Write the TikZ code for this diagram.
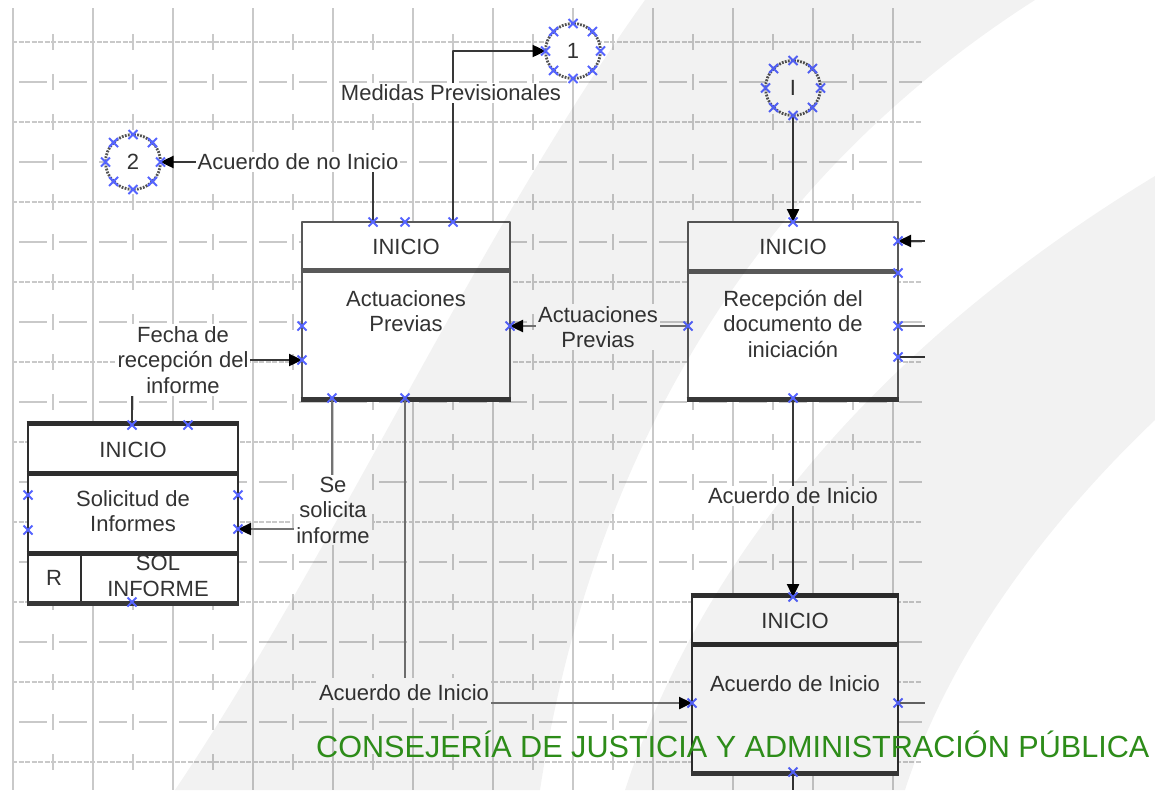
\documentclass[tikz,border=0pt]{standalone}
\usepackage{fontspec}
\setmainfont{Liberation Sans}
\usetikzlibrary{arrows.meta,shapes.misc}
\definecolor{juntagreen}{RGB}{45,140,25}
\definecolor{portblue}{RGB}{85,100,255}

\begin{document}
\begin{tikzpicture}[x=1pt, y=-1pt, line join=round,
  grid line/.style={black!21, line width=2.2pt},
  proc node/.style={rectangle, draw=black!65, line width=2.8pt, fill=white, inner sep=0pt},
  text node/.style={text=black!80, font=\fontsize{22}{25.5}\selectfont, align=center, inner sep=1pt},
  flow label/.style={text node, fill=white, inner sep=2pt},
  ref node/.style={circle, draw=black!68, line width=2.8pt, dash pattern=on 1.8pt off 1.3pt,
    minimum size=55pt, inner sep=0pt, outer sep=0pt, fill=white, text=black!80,
    font=\fontsize{22}{25.5}\selectfont},
  port/.style={cross out, draw=portblue, line width=2pt, minimum size=9pt, inner sep=0pt, outer sep=0pt},
  flow/.style={black!78, line width=2.4pt, -{Triangle[length=13pt, width=12pt, color=black]}},
  stub/.style={black!60, line width=2.4pt}]
  \useasboundingbox (0,0) rectangle (1155,790);
  \fill[white] (0,0) rectangle (1155,790);

  % page grid
  \foreach \gx in {13,93,...,893}
    \draw[grid line] (\gx,8) -- (\gx,790);
  \foreach \gx in {53,133,...,853}
    \draw[grid line, dash pattern=on 16pt off 24pt] (\gx,34) -- (\gx,790);
  \foreach \gy in {42,122,...,762}
    \draw[grid line, dash pattern=on 5pt off 1.5pt] (12,\gy) -- (922,\gy);
  \foreach \gy in {82,162,...,722}
    \draw[grid line, dash pattern=on 28pt off 12pt] (19,\gy) -- (922,\gy);

  % off-page references
  \node[ref node] (cone) at (573,51) {1};
  \node[ref node] (ctwo) at (133,162) {2};
  \node[ref node] (cini) at (793,88) {I};

  % process boxes
  \node[proc node, minimum width=208pt, minimum height=176pt] (actprev) at (406,310) {};
  \node[proc node, minimum width=210pt, minimum height=176pt] (recdoc) at (793,310) {};
  \node[proc node, draw=black!82, minimum width=210pt, minimum height=177pt] (solinf) at (133,513.5) {};
  \node[proc node, draw=black!82, minimum width=206pt, minimum height=175pt] (acuini) at (795,684.5) {};

  \draw[black!65, line width=4.5pt] ([yshift=-50pt]actprev.north west) -- ([yshift=-50pt]actprev.north east);
  \draw[black!65, line width=4.5pt] ([yshift=-51pt]recdoc.north west) -- ([yshift=-51pt]recdoc.north east);
  \draw[black!82, line width=4.5pt] ([yshift=-50pt]solinf.north west) -- ([yshift=-50pt]solinf.north east);
  \draw[black!82, line width=4.5pt] ([yshift=-130pt]solinf.north west) -- ([yshift=-130pt]solinf.north east);
  \draw[black!82, line width=2.8pt] (81,555) -- (solinf.south -| 81,0);
  \draw[black!82, line width=4.5pt] ([yshift=-49pt]acuini.north west) -- ([yshift=-49pt]acuini.north east);
  \draw[black!82, line width=4.5pt] (solinf.north west) -- (solinf.north east);
  \draw[black!82, line width=4.5pt] (acuini.north west) -- (acuini.north east);
  \foreach \b in {actprev,recdoc,solinf,acuini}
    \draw[black!78, line width=4.5pt] (\b.south west) -- (\b.south east);

  \node[text node] (actprevhead) at (406,247) {INICIO};
  \node[text node] (actprevbody) at (406,311) {Actuaciones\\Previas};
  \node[text node] (recdochead) at (793,247) {INICIO};
  \node[text node] (recdocbody) at (793,324) {Recepción del\\documento de\\iniciación};
  \node[text node] (solinfhead) at (133,450) {INICIO};
  \node[text node] (solinfbody) at (133,511) {Solicitud de\\Informes};
  \node[text node] (solinfcode) at (54,578) {R};
  \node[text node] (solinfname) at (158,576) {SOL\\INFORME};
  \node[text node] (acuinihead) at (795,621) {INICIO};
  \node[text node] (acuinibody) at (795,684) {Acuerdo de Inicio};

  % connection points
  \coordinate (an1) at (373,222);
  \coordinate (an2) at (405,222);
  \coordinate (an3) at (453,222);
  \coordinate (aw1) at (302,326);
  \coordinate (aw2) at (302,360);
  \coordinate (ae1) at (510,326);
  \coordinate (as1) at (332,398);
  \coordinate (as2) at (405,398);
  \coordinate (bn1) at (793,222);
  \coordinate (bw1) at (688,326);
  \coordinate (be1) at (898,241);
  \coordinate (be2) at (898,273);
  \coordinate (be3) at (898,326);
  \coordinate (be4) at (898,357);
  \coordinate (bs1) at (793,398);
  \coordinate (cn1) at (132,425);
  \coordinate (cn2) at (188,425);
  \coordinate (cw1) at (28,495);
  \coordinate (cw2) at (28,530);
  \coordinate (ce1) at (238,495);
  \coordinate (ce2) at (238,529);
  \coordinate (cs1) at (132,602);
  \coordinate (dn1) at (793,597);
  \coordinate (dw1) at (692,703);
  \coordinate (de1) at (898,703);
  \coordinate (ds1) at (793,772);
  % loose ends at the cut edge
  \coordinate (cut1) at (925,241);
  \coordinate (cut3) at (925,326);
  \coordinate (cut4) at (925,357);
  \coordinate (cut5) at (925,703);
  \coordinate (cut6) at (793,790);

  % flows
  \draw[flow] (an3) |- (cone);
  \draw[flow] (an1) |- (ctwo);
  \draw[flow, black!55] (bw1) -- (ae1);
  \draw[flow] (cini) -- (bn1);
  \draw[flow] (bs1) -- (dn1);
  \draw[flow, black!55] (as2) |- (dw1);
  \draw[flow] (cn1) |- (aw2);
  \draw[flow, black!55] (as1) |- (ce2);
  \draw[flow] (cut1) -- (be1);
  \draw[stub] (be3) -- (cut3);
  \draw[stub, black!80] (be4) -- (cut4);
  \draw[stub] (de1) -- (cut5);
  \draw[stub, black!80] (ds1) -- (cut6);

  \node[flow label] (medprov) at (451,93) {Medidas Previsionales};
  \node[flow label] (noinicio) at (298,162) {Acuerdo de no Inicio};
  \node[flow label] (actlabel) at (598,327) {Actuaciones\\Previas};
  \node[flow label] (fecha) at (183,360) {Fecha de\\recepción del\\informe};
  \node[flow label] (solicita) at (333,510) {Se\\solicita\\informe};
  \node[flow label] (acuright) at (793,496) {Acuerdo de Inicio};
  \node[flow label, inner ysep=7pt] (aculeft) at (404,693) {Acuerdo de Inicio};

  \foreach \c in {cone,ctwo,cini}
    \foreach \a in {0,45,...,315}
      \node[port] at (\c.\a) {};
  \foreach \p in {an1,an2,an3,aw1,aw2,ae1,as1,as2,bn1,bw1,be1,be2,be3,be4,bs1,
                  cn1,cn2,cw1,cw2,ce1,ce2,cs1,dn1,dw1,de1,ds1}
    \node[port] at (\p) {};

  % background swoosh
  \fill[black, fill opacity=0.05] (175,790) .. controls (330,560) and (480,230) .. (645,0)
    -- (1035,0) .. controls (800,150) and (600,400) .. (540,790) -- cycle;
  \fill[black, fill opacity=0.05] (1155,176) .. controls (950,300) and (720,500) .. (625,790)
    -- (905,790) .. controls (950,650) and (1050,520) .. (1155,420) -- cycle;

  \node[anchor=base west, inner sep=0pt, text=juntagreen, font=\fontsize{30.6}{36}\selectfont]
    (footer) at (316,757) {CONSEJERÍA DE JUSTICIA Y ADMINISTRACIÓN PÚBLICA};
\end{tikzpicture}
\end{document}
